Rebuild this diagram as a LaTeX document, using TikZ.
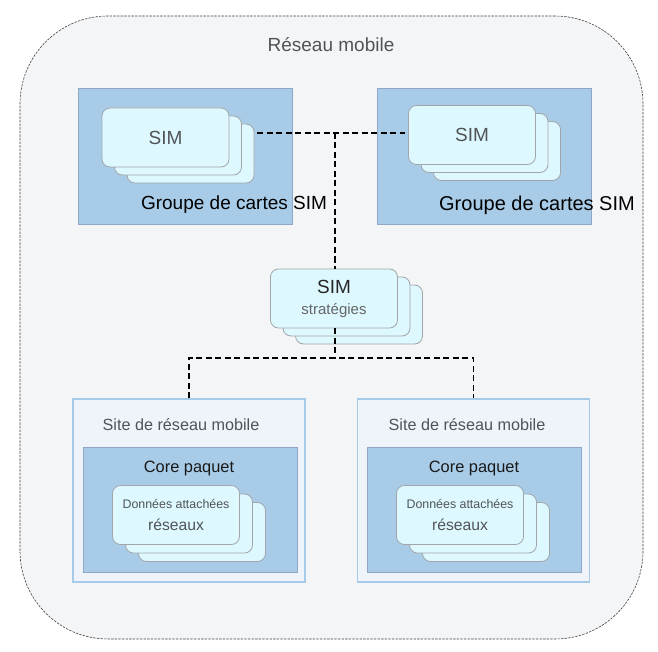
\documentclass[tikz,border=0pt]{standalone}
\usepackage{xcolor}
\usepackage{fontspec}
\setmainfont{Liberation Sans}
\usepackage{tikz}

\definecolor{netfill}{HTML}{F4F5F7}
\definecolor{grpfill}{HTML}{A8CCE8}
\definecolor{grpline}{HTML}{8FA6C6}
\definecolor{cardfill}{HTML}{DDF8FE}
\definecolor{cardline}{HTML}{A2A6AA}
\definecolor{sitefill}{HTML}{EEF4FA}
\definecolor{siteline}{HTML}{A6CBE8}
\definecolor{greytext}{HTML}{505458}

\tikzset{
    netbox/.style={draw=black!75, fill=netfill, line width=0.6pt, dash pattern=on 2.4pt off 1.2pt,
        rounded corners=88pt, minimum width=623pt, minimum height=623pt, inner sep=0pt},
    grpbox/.style={draw=grpline, fill=grpfill, line width=0.8pt, minimum width=214pt, minimum height=136pt, inner sep=0pt},
    sitebox/.style={draw=siteline, fill=sitefill, line width=1.6pt, minimum width=232pt, minimum height=183pt, inner sep=0pt},
    corebox/.style={draw=grpline, fill=grpfill, line width=0.8pt, minimum width=214pt, minimum height=125pt, inner sep=0pt},
    card/.style={draw=cardline, fill=cardfill, line width=0.8pt, rounded corners=8pt,
        minimum width=127pt, minimum height=59pt, inner sep=0pt, text=greytext, align=center},
    link/.style={draw=black, line width=1.6pt, dash pattern=on 6pt off 3.5pt},
    lbl/.style={inner sep=0pt, text=greytext}
}

\begin{document}
\begin{tikzpicture}[x=1pt, y=-1pt]
    \useasboundingbox (0,0) rectangle (658,652);

    \node [netbox] (net) at (331.5,327.5) {};
    \node [lbl, font=\fontsize{19}{22}\selectfont] (netlab) at (331,45) {Réseau mobile};

    % groupes de cartes SIM
    \node [grpbox] (grpA) at (185,156) {};
    \node [grpbox] (grpB) at (484.5,156) {};

    \node [card] (simA3) at (190.5,153.5) {};
    \node [card] (simA2) at ([shift={(-12.5,-8)}]simA3) {};
    \node [card, font=\fontsize{19}{22}\selectfont] (simA) at ([shift={(-12.5,-8)}]simA2) {SIM};

    \node [card] (simB3) at (497,151) {};
    \node [card] (simB2) at ([shift={(-12.5,-8)}]simB3) {};
    \node [card, font=\fontsize{19}{22}\selectfont] (simB) at ([shift={(-12.5,-8)}]simB2) {SIM};

    \node [lbl, text=black, font=\fontsize{19}{22}\selectfont] (grpAlab) at (234,205) {Groupe de cartes SIM};
    \node [lbl, text=black, font=\fontsize{20}{22}\selectfont] (grpBlab) at (537,205) {Groupe de cartes SIM};

    % stratégies
    \node [card] (pol3) at (359,314.5) {};
    \node [card] (pol2) at ([shift={(-12.5,-8)}]pol3) {};
    \node [card, font=\fontsize{15}{21}\selectfont] (pol) at ([shift={(-12.5,-8)}]pol2)
        {{\fontsize{19}{22}\selectfont\color{black!85}SIM}\\{\color{black!60}stratégies}};

    % sites
    \node [sitebox] (siteA) at (189,490.5) {};
    \node [sitebox] (siteB) at (473.5,490.5) {};
    \node [corebox] (coreA) at (190,509.5) {};
    \node [corebox] (coreB) at (474,509.5) {};

    \node [lbl, font=\fontsize{16.2}{19}\selectfont] (siteAlab) at (181,425) {Site de réseau mobile};
    \node [lbl, font=\fontsize{16.2}{19}\selectfont] (siteBlab) at (467,425) {Site de réseau mobile};
    \node [lbl, text=black!90, font=\fontsize{16.4}{19}\selectfont] (coreAlab) at (189,468) {Core paquet};
    \node [lbl, text=black!90, font=\fontsize{16.4}{19}\selectfont] (coreBlab) at (474,468) {Core paquet};

    \node [card] (dataA3) at (202,532) {};
    \node [card] (dataA2) at ([shift={(-13,-8.5)}]dataA3) {};
    \node [card, font=\fontsize{15.7}{22.5}\selectfont] (dataA) at ([shift={(-13,-8.5)}]dataA2)
        {{\fontsize{12.4}{15}\selectfont Données attachées}\\réseaux};

    \node [card] (dataB3) at (486,532) {};
    \node [card] (dataB2) at ([shift={(-13,-8.5)}]dataB3) {};
    \node [card, font=\fontsize{15.7}{22.5}\selectfont] (dataB) at ([shift={(-13,-8.5)}]dataB2)
        {{\fontsize{12.4}{15}\selectfont Données attachées}\\réseaux};

    % liaisons
    \coordinate (simhub) at (335,133);
    \coordinate (polhub) at (335,358);
    \draw [link] ([xshift=3pt]simA3.east |- simhub) -- ([xshift=-3pt]simB.west |- simhub);
    \draw [link] (simhub) -- (simhub |- pol.north);
    \draw [link] (simhub |- pol.south) -- (polhub);
    \draw [link] (siteA.north) |- (polhub) -| (siteB.north);
\end{tikzpicture}
\end{document}
